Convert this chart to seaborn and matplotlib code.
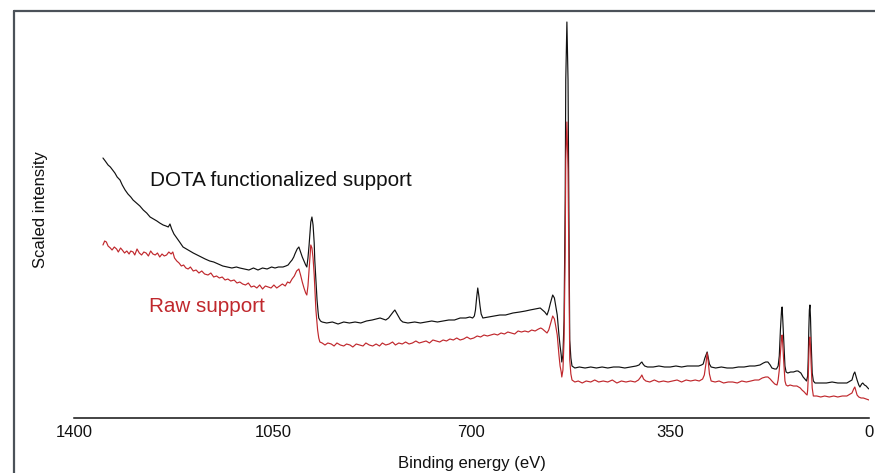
import numpy as np
import pandas as pd
import matplotlib
matplotlib.use("Agg")
import matplotlib.pyplot as plt
from matplotlib.lines import Line2D
import seaborn as sns

# XPS survey spectra: (binding energy eV, scaled intensity a.u.)
dota_points = [
    (1349, 260), (1345, 257), (1340, 253), (1336, 251), (1332, 248), (1328, 245),
    (1324, 241), (1319, 238), (1315, 233), (1310, 228), (1305, 224), (1300, 221),
    (1296, 218), (1290, 215), (1284, 212), (1278, 208), (1272, 205), (1266, 201),
    (1260, 199), (1254, 197), (1249, 195), (1243, 193), (1238, 192), (1234, 191),
    (1231, 194), (1228, 189), (1224, 184), (1219, 180), (1214, 176), (1208, 171),
    (1202, 169), (1196, 167), (1190, 165), (1183, 163), (1176, 161), (1169, 159),
    (1161, 157), (1154, 156), (1146, 154), (1138, 152), (1130, 151), (1122, 150),
    (1114, 151), (1108, 150), (1100, 149), (1092, 148), (1084, 150), (1076, 148),
    (1068, 150), (1060, 149), (1052, 151), (1046, 150), (1040, 151), (1032, 151),
    (1027, 152), (1023, 153), (1019, 156), (1016, 158), (1013, 161), (1011, 164),
    (1007, 169), (1004, 171), (1001, 166), (998, 161), (995, 157), (992, 153),
    (990, 151), (988, 160), (986, 173), (984, 188), (983, 196), (981, 201),
    (979, 193), (977, 175), (976, 158), (974, 138), (972, 118), (970, 105),
    (969, 100), (966, 97), (963, 96), (955, 95), (945, 96), (935, 94), (925, 96),
    (915, 95), (905, 96), (895, 95), (885, 97), (875, 98), (868, 99), (861, 100),
    (856, 99), (851, 98), (846, 100), (842, 103), (838, 106), (835, 108),
    (832, 105), (829, 102), (825, 98), (821, 96), (812, 95), (800, 96), (790, 95),
    (780, 96), (770, 97), (760, 96), (750, 97), (740, 98), (730, 98), (720, 100),
    (710, 100), (703, 101), (698, 100), (695, 102), (693, 108), (691, 120),
    (689, 130), (687, 122), (685, 112), (683, 104), (680, 100), (670, 101),
    (660, 102), (650, 103), (640, 103), (627, 105), (615, 106), (605, 107),
    (597, 108), (588, 109), (579, 110), (575, 108), (571, 106), (567, 103),
    (564, 108), (561, 115), (557, 123), (554, 120), (552, 113), (549, 103),
    (546, 83), (544, 72), (542, 63), (541, 56), (539, 63), (537, 98), (535, 218),
    (534, 338), (532, 396), (530, 338), (528, 168), (527, 78), (525, 60),
    (523, 52), (518, 50), (510, 51), (500, 50), (490, 51), (480, 50), (470, 51),
    (460, 50), (450, 51), (440, 51), (430, 50), (420, 51), (410, 52), (405, 53),
    (402, 55), (400, 56), (398, 54), (395, 52), (390, 51), (380, 51), (370, 52),
    (360, 51), (350, 51), (340, 52), (330, 51), (320, 52), (310, 52), (300, 52),
    (295, 53), (292, 54), (289, 60), (287, 63), (285, 66), (283, 60), (281, 54),
    (278, 51), (270, 50), (260, 51), (250, 50), (240, 50), (230, 51), (220, 51),
    (210, 52), (201, 52), (192, 53), (186, 55), (182, 56), (178, 56), (174, 53),
    (171, 50), (166, 49), (163, 49), (160, 52), (158, 62), (156, 88), (154, 108),
    (153, 111), (152, 100), (150, 75), (148, 52), (146, 46), (143, 45), (138, 46),
    (133, 46), (128, 47), (125, 47), (120, 45), (116, 41), (113, 39), (110, 37),
    (108, 42), (107, 60), (106, 88), (105, 108), (104, 113), (103, 100),
    (102, 78), (100, 45), (98, 37), (95, 35), (85, 35), (75, 35), (65, 36),
    (55, 35), (45, 35), (39, 35), (33, 37), (30, 38), (27, 44), (25, 46),
    (23, 42), (21, 38), (18, 33), (16, 31), (13, 34), (11, 35), (8, 33), (5, 32),
    (2, 30), (0, 29),
]

raw_points = [
    (1349, 173), (1346, 177), (1343, 176), (1340, 172), (1336, 170), (1333, 168),
    (1329, 171), (1325, 169), (1322, 166), (1318, 170), (1315, 168), (1311, 165),
    (1307, 167), (1303, 164), (1300, 167), (1296, 166), (1293, 163), (1289, 169),
    (1285, 165), (1281, 163), (1277, 166), (1273, 165), (1269, 162), (1265, 167),
    (1261, 164), (1257, 163), (1253, 165), (1249, 161), (1245, 164), (1241, 162),
    (1237, 163), (1233, 166), (1229, 164), (1226, 166), (1223, 160), (1219, 157),
    (1215, 155), (1211, 152), (1207, 153), (1203, 150), (1199, 149), (1195, 151),
    (1190, 147), (1185, 148), (1180, 145), (1175, 147), (1170, 144), (1164, 143),
    (1159, 145), (1154, 141), (1149, 142), (1144, 140), (1139, 141), (1134, 138),
    (1129, 139), (1124, 137), (1118, 138), (1113, 135), (1108, 136), (1103, 134),
    (1098, 133), (1093, 135), (1088, 131), (1083, 132), (1078, 130), (1073, 133),
    (1068, 129), (1063, 132), (1058, 131), (1053, 130), (1048, 133), (1043, 130),
    (1038, 132), (1033, 134), (1028, 132), (1024, 136), (1020, 135), (1016, 139),
    (1012, 142), (1008, 147), (1004, 149), (1001, 143), (998, 136), (995, 130),
    (992, 125), (990, 123), (988, 132), (986, 148), (984, 165), (983, 173),
    (981, 170), (979, 160), (977, 143), (974, 108), (971, 88), (969, 80),
    (967, 76), (963, 75), (958, 73), (953, 75), (947, 74), (942, 72), (937, 75),
    (931, 73), (925, 72), (920, 74), (914, 73), (909, 71), (903, 74), (897, 73),
    (891, 72), (886, 75), (880, 73), (874, 72), (868, 74), (862, 72), (857, 75),
    (851, 73), (845, 74), (839, 76), (834, 73), (828, 75), (822, 74), (816, 76),
    (810, 74), (804, 75), (798, 77), (792, 75), (786, 76), (780, 77), (774, 75),
    (768, 78), (762, 77), (756, 76), (750, 78), (744, 77), (738, 79), (732, 78),
    (726, 80), (720, 78), (714, 79), (708, 81), (702, 79), (696, 80), (690, 82),
    (684, 81), (678, 83), (672, 82), (666, 83), (660, 84), (654, 83), (648, 85),
    (642, 84), (636, 86), (630, 85), (624, 84), (618, 87), (612, 86), (606, 87),
    (600, 86), (594, 88), (588, 87), (582, 89), (578, 90), (575, 89), (571, 87),
    (567, 85), (564, 88), (561, 94), (557, 102), (554, 99), (552, 93), (549, 83),
    (546, 63), (544, 52), (542, 46), (541, 41), (539, 48), (537, 78), (535, 168),
    (534, 258), (532, 296), (530, 248), (528, 128), (527, 58), (525, 44),
    (523, 38), (518, 36), (512, 37), (505, 35), (498, 37), (490, 36), (483, 38),
    (476, 36), (468, 37), (460, 36), (452, 38), (444, 35), (436, 37), (428, 36),
    (420, 37), (412, 36), (406, 38), (402, 41), (400, 43), (397, 39), (393, 37),
    (386, 36), (378, 38), (370, 36), (362, 37), (354, 36), (346, 37), (338, 38),
    (330, 36), (322, 38), (314, 37), (306, 38), (299, 37), (293, 39), (290, 43),
    (287, 55), (285, 65), (283, 56), (281, 44), (278, 37), (271, 36), (264, 37),
    (256, 35), (248, 36), (240, 36), (232, 35), (224, 37), (216, 36), (208, 37),
    (201, 38), (194, 38), (188, 40), (182, 41), (178, 41), (174, 39), (171, 37),
    (166, 34), (162, 33), (160, 38), (158, 48), (156, 65), (154, 80), (153, 83),
    (152, 75), (150, 55), (148, 37), (146, 33), (143, 32), (139, 33), (133, 32),
    (127, 32), (121, 30), (118, 28), (114, 26), (111, 24), (109, 23), (108, 28),
    (107, 40), (106, 62), (105, 78), (104, 81), (103, 72), (102, 55), (100, 30),
    (98, 22), (92, 22), (85, 21), (78, 22), (70, 21), (62, 22), (55, 21),
    (47, 22), (39, 22), (33, 24), (30, 25), (27, 29), (25, 31), (23, 27),
    (21, 23), (18, 21), (14, 20), (10, 20), (5, 19), (0, 18),
]

series_names = ["DOTA functionalized support", "Raw support"]
series_colors = ["#111111", "#c0282d"]
x_ticks = [1400, 1050, 700, 350, 0]

# Long table for seaborn
frames = []
for name, pts in zip(series_names, [dota_points, raw_points]):
    e, i = zip(*pts)
    frames.append(pd.DataFrame({"energy": e, "intensity": i, "sample": name}))
df = pd.concat(frames, ignore_index=True)

sns.set_theme(style="white")
plt.rcParams["font.family"] = ["Liberation Sans", "DejaVu Sans"]

fig = plt.figure(figsize=(8.75, 4.73), dpi=100)
ax = fig.add_axes([74 / 875, 55 / 473, 795 / 875, 407 / 473])

sns.lineplot(data=df, x="energy", y="intensity", hue="sample",
             palette=dict(zip(series_names, series_colors)),
             estimator=None, sort=False, linewidth=0.85, legend=False, ax=ax)

ax.set_xlim(1400, 0)
ax.set_ylim(0, 407)
ax.set_xticks(x_ticks)
ax.set_xticklabels([str(t) for t in x_ticks], fontsize=12, color="#111111")
ax.set_yticks([])
ax.tick_params(axis="x", direction="in", length=4, width=1, color="#111111", pad=5)

for side in ["left", "right", "top"]:
    ax.spines[side].set_visible(False)
ax.spines["bottom"].set_color("#111111")
ax.spines["bottom"].set_linewidth(1.1)

ax.set_xlabel("Binding energy (eV)", fontsize=12, color="#111111")
ax.xaxis.set_label_coords(0.5, -0.094)
ax.set_ylabel("Scaled intensity", fontsize=12, color="#111111")
ax.yaxis.set_label_coords(-0.033, 0.511)

ax.text(1266, 237, series_names[0], fontsize=14.9, color=series_colors[0], va="center")
ax.text(1268, 112, series_names[1], fontsize=14.9, color=series_colors[1], va="center")

# grey frame around the picture (only left and top edges visible)
fig.add_artist(Line2D([14 / 875, 14 / 875], [0, 1 - 11 / 473], transform=fig.transFigure,
                      color="#4b5259", linewidth=1.6))
fig.add_artist(Line2D([14 / 875, 1], [1 - 11 / 473, 1 - 11 / 473], transform=fig.transFigure,
                      color="#4b5259", linewidth=1.6))

fig.savefig("out.png", dpi=100)
